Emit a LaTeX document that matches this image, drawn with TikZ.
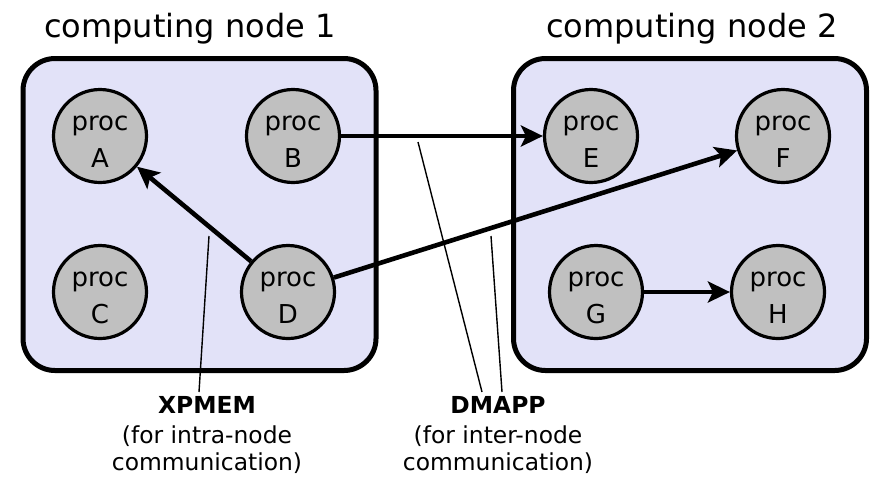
\documentclass[tikz,border=0pt]{standalone}
\usepackage{fontspec}
\setmainfont{DejaVu Sans}
\usetikzlibrary{arrows.meta,calc}

\definecolor{boxblue}{RGB}{226,226,248}
\definecolor{procgray}{RGB}{192,192,192}

\tikzset{title/.style={anchor=base,font=\fontsize{16}{19}\selectfont}}
\tikzset{box/.style={draw=black,line width=2.5pt,fill=boxblue,rounded corners=16pt,
            minimum width=176.5pt,minimum height=156pt}}
\tikzset{proc/.style={circle,draw=black,line width=1.6pt,fill=procgray,minimum size=46.5pt,
            inner sep=0pt,align=center,font=\fontsize{13}{18.5}\selectfont,
            text height=31pt,text depth=0pt}}
\tikzset{comm/.style={line width=2.3pt,-{Stealth[length=11pt,width=10.5pt,inset=2.5pt]}}}
\tikzset{lbl/.style={anchor=north,align=center,inner sep=2pt,font=\fontsize{11.7}{13.5}\selectfont}}
\tikzset{leader/.style={line width=0.7pt}}

\begin{document}
\begin{tikzpicture}[x=0.5pt,y=-0.5pt]
            \useasboundingbox (0,0) rectangle (870,478);

            \node[title] (t_1) at (190,37) {computing node 1};
            \node[title] (t_2) at (692,37) {computing node 2};

            \node[box] (n_1) at (199.5,214.5) {};
            \node[box] (n_2) at (690,214.5) {};

            \node[proc] (p_A) at (100,136) {proc\\A};
            \node[proc] (p_B) at (293,136) {proc\\B};
            \node[proc] (p_C) at (100,292) {proc\\C};
            \node[proc] (p_D) at (288,292) {proc\\D};

            \node[proc] (p_E) at (591,136) {proc\\E};
            \node[proc] (p_F) at (783,136) {proc\\F};
            \node[proc] (p_G) at (596,292) {proc\\G};
            \node[proc] (p_H) at (778,292) {proc\\H};

            \draw[comm] (p_D) -- (p_A);
            \draw[comm] (p_B) -- (p_E);
            \draw[comm] (p_D) -- (p_F);
            \draw[comm] (p_G) -- (p_H);

            \node[lbl] (l_1) at (207,392) {\textbf{XPMEM}\\[1.5pt](for intra-node\\communication)};
            \node[lbl] (l_2) at (498,392) {\textbf{DMAPP}\\[1.5pt](for inter-node\\communication)};

            \coordinate (x_1) at (209,236);
            \coordinate (d_1) at (418,142);
            \coordinate (d_2) at (491,236);

            \draw[leader] ($(l_1.north)+(-8,0)$) -- (x_1);
            \draw[leader] ($(l_2.north)+(-16,0)$) -- (d_1);
            \draw[leader] ($(l_2.north)+(4,0)$) -- (d_2);
\end{tikzpicture}
\end{document}
